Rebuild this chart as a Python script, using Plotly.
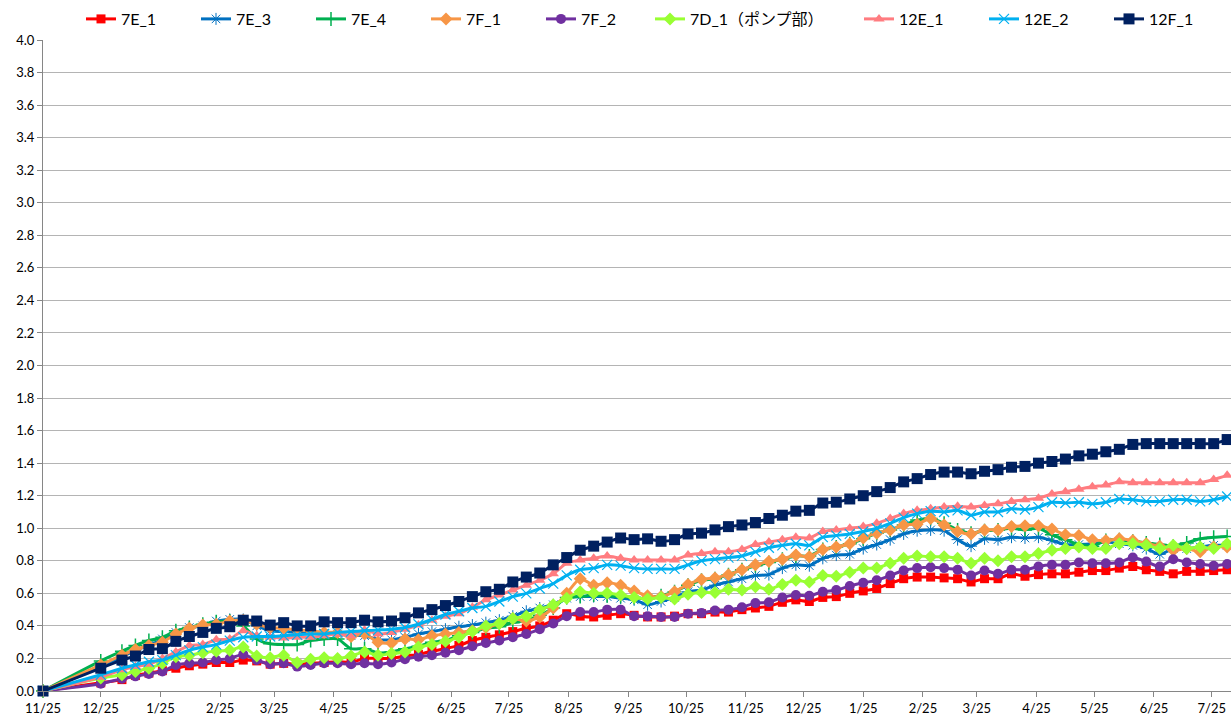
import pandas as pd
import plotly.graph_objects as go

# measurement dates: 11/25, 12/25, then weekly
dates = ["2012-11-25", "2012-12-25"] + [
    d.strftime("%Y-%m-%d") for d in pd.date_range("2013-01-05", periods=83, freq="7D")
]

tick_dates = [d.strftime("%Y-%m-%d") for d in pd.date_range("2012-11-25", periods=21, freq=pd.DateOffset(months=1))]
tick_labels = ["11/25", "12/25", "1/25", "2/25", "3/25", "4/25", "5/25", "6/25", "7/25", "8/25",
               "9/25", "10/25", "11/25", "12/25", "1/25", "2/25", "3/25", "4/25", "5/25", "6/25", "7/25"]

s_7E_1 = [0, 0.05, 0.07, 0.095, 0.11, 0.125, 0.14, 0.155, 0.165, 0.175, 0.175, 0.19,
          0.185, 0.165, 0.17, 0.165, 0.17, 0.175, 0.18, 0.175, 0.20, 0.20, 0.20,
          0.215, 0.225, 0.245, 0.26, 0.28, 0.31, 0.33, 0.345, 0.365, 0.385, 0.40, 0.435,
          0.475, 0.46, 0.455, 0.465, 0.475, 0.465, 0.455, 0.455, 0.46, 0.475, 0.475,
          0.485, 0.485, 0.50, 0.51, 0.52, 0.545, 0.56, 0.55, 0.575, 0.58, 0.60, 0.615,
          0.63, 0.66, 0.69, 0.70, 0.70, 0.695, 0.69, 0.67, 0.69, 0.69, 0.72, 0.705,
          0.715, 0.72, 0.72, 0.73, 0.74, 0.74, 0.755, 0.765, 0.745, 0.735, 0.72, 0.735,
          0.735, 0.74, 0.745]

s_7E_3 = [0, 0.15, 0.21, 0.25, 0.28, 0.32, 0.36, 0.39, 0.40, 0.43, 0.44, 0.44,
          0.40, 0.37, 0.365, 0.36, 0.355, 0.355, 0.35, 0.34, 0.34, 0.315, 0.315,
          0.33, 0.35, 0.365, 0.38, 0.395, 0.405, 0.42, 0.435, 0.46, 0.49, 0.51, 0.53,
          0.57, 0.58, 0.58, 0.58, 0.57, 0.56, 0.53, 0.55, 0.575, 0.61, 0.62,
          0.65, 0.67, 0.69, 0.71, 0.715, 0.755, 0.775, 0.77, 0.815, 0.835, 0.84, 0.875,
          0.90, 0.93, 0.965, 0.985, 0.99, 0.985, 0.93, 0.89, 0.935, 0.93, 0.945, 0.94,
          0.945, 0.925, 0.90, 0.90, 0.905, 0.915, 0.905, 0.895, 0.875, 0.84, 0.875, 0.875,
          0.885, 0.895, 0.895]

s_7E_4 = [0, 0.185, 0.245, 0.28, 0.31, 0.33, 0.37, 0.39, 0.41, 0.425, 0.43, 0.40,
          0.32, 0.29, 0.285, 0.285, 0.31, 0.32, 0.32, 0.26, 0.26, 0.235, 0.24,
          0.26, 0.275, 0.30, 0.31, 0.34, 0.36, 0.385, 0.395, 0.42, 0.435, 0.465, 0.51,
          0.575, 0.58, 0.59, 0.585, 0.58, 0.575, 0.565, 0.585, 0.61, 0.65, 0.68,
          0.69, 0.715, 0.745, 0.77, 0.79, 0.81, 0.83, 0.83, 0.87, 0.885, 0.905, 0.935,
          0.97, 0.99, 1.02, 1.05, 1.06, 1.03, 0.99, 0.97, 0.985, 0.99, 1.00, 0.99,
          1.00, 0.96, 0.93, 0.90, 0.89, 0.925, 0.93, 0.92, 0.91, 0.90, 0.89, 0.91,
          0.935, 0.945, 0.95]

s_7F_1 = [0, 0.16, 0.22, 0.255, 0.28, 0.30, 0.35, 0.385, 0.405, 0.41, 0.43, 0.435,
          0.41, 0.39, 0.385, 0.375, 0.37, 0.36, 0.36, 0.335, 0.35, 0.30, 0.295,
          0.32, 0.315, 0.34, 0.35, 0.36, 0.37, 0.39, 0.415, 0.445, 0.43, 0.455, 0.51,
          0.60, 0.69, 0.65, 0.665, 0.65, 0.615, 0.585, 0.58, 0.61, 0.655, 0.685,
          0.695, 0.715, 0.745, 0.775, 0.795, 0.81, 0.835, 0.825, 0.87, 0.885, 0.905, 0.94,
          0.97, 0.99, 1.02, 1.025, 1.06, 1.02, 0.98, 0.965, 0.99, 0.99, 1.01, 1.015,
          1.015, 0.995, 0.96, 0.955, 0.93, 0.925, 0.935, 0.925, 0.905, 0.89, 0.865, 0.875,
          0.855, 0.885, 0.885]

s_7F_2 = [0, 0.045, 0.075, 0.09, 0.105, 0.12, 0.16, 0.17, 0.175, 0.19, 0.20, 0.225,
          0.19, 0.165, 0.17, 0.15, 0.16, 0.17, 0.17, 0.165, 0.17, 0.165, 0.175,
          0.195, 0.21, 0.22, 0.235, 0.25, 0.275, 0.295, 0.31, 0.33, 0.35, 0.38, 0.415,
          0.46, 0.485, 0.485, 0.50, 0.50, 0.46, 0.46, 0.455, 0.455, 0.475, 0.48,
          0.495, 0.50, 0.515, 0.54, 0.545, 0.575, 0.59, 0.585, 0.61, 0.62, 0.645, 0.665,
          0.68, 0.71, 0.74, 0.755, 0.76, 0.755, 0.745, 0.71, 0.74, 0.72, 0.745, 0.745,
          0.765, 0.775, 0.775, 0.79, 0.785, 0.785, 0.79, 0.82, 0.795, 0.765, 0.81, 0.79,
          0.78, 0.77, 0.78]

s_7D_1 = [0, 0.08, 0.10, 0.12, 0.14, 0.17, 0.21, 0.22, 0.235, 0.245, 0.25, 0.27,
          0.215, 0.205, 0.22, 0.175, 0.195, 0.205, 0.20, 0.215, 0.24, 0.22, 0.23,
          0.24, 0.27, 0.285, 0.305, 0.33, 0.365, 0.40, 0.415, 0.445, 0.46, 0.50, 0.53,
          0.57, 0.61, 0.60, 0.60, 0.59, 0.575, 0.565, 0.575, 0.565, 0.595, 0.605,
          0.605, 0.625, 0.62, 0.64, 0.625, 0.655, 0.68, 0.67, 0.71, 0.705, 0.73, 0.755,
          0.755, 0.785, 0.815, 0.83, 0.825, 0.825, 0.815, 0.785, 0.815, 0.80, 0.825, 0.825,
          0.845, 0.865, 0.875, 0.885, 0.875, 0.875, 0.905, 0.905, 0.895, 0.875, 0.895, 0.875,
          0.885, 0.875, 0.905]

s_12E_1 = [0, 0.085, 0.13, 0.15, 0.165, 0.20, 0.24, 0.28, 0.285, 0.315, 0.32, 0.37,
           0.34, 0.33, 0.325, 0.33, 0.33, 0.34, 0.35, 0.34, 0.375, 0.35, 0.36,
           0.38, 0.405, 0.435, 0.46, 0.475, 0.515, 0.56, 0.59, 0.62, 0.65, 0.68, 0.72,
           0.785, 0.805, 0.815, 0.83, 0.815, 0.805, 0.805, 0.805, 0.805, 0.835, 0.845,
           0.855, 0.855, 0.87, 0.90, 0.915, 0.93, 0.945, 0.94, 0.98, 0.99, 1.00, 1.01,
           1.03, 1.06, 1.09, 1.11, 1.12, 1.13, 1.135, 1.13, 1.14, 1.15, 1.165, 1.175,
           1.185, 1.21, 1.225, 1.24, 1.255, 1.265, 1.285, 1.28, 1.28, 1.28, 1.28, 1.28,
           1.28, 1.30, 1.325]

s_12E_2 = [0, 0.10, 0.14, 0.16, 0.18, 0.19, 0.22, 0.25, 0.27, 0.285, 0.31, 0.33,
           0.335, 0.335, 0.34, 0.345, 0.35, 0.35, 0.36, 0.365, 0.37, 0.375, 0.38,
           0.39, 0.41, 0.44, 0.47, 0.49, 0.51, 0.52, 0.55, 0.58, 0.60, 0.63, 0.66,
           0.71, 0.745, 0.755, 0.775, 0.77, 0.755, 0.75, 0.75, 0.75, 0.775, 0.80,
           0.81, 0.82, 0.83, 0.855, 0.88, 0.895, 0.905, 0.895, 0.945, 0.955, 0.965, 0.98,
           1.00, 1.03, 1.065, 1.09, 1.105, 1.10, 1.11, 1.08, 1.10, 1.10, 1.12, 1.115,
           1.13, 1.16, 1.155, 1.16, 1.15, 1.16, 1.18, 1.175, 1.165, 1.165, 1.175, 1.175,
           1.165, 1.175, 1.195]

s_12F_1 = [0, 0.14, 0.19, 0.215, 0.255, 0.26, 0.305, 0.335, 0.36, 0.385, 0.395, 0.435,
           0.43, 0.405, 0.42, 0.40, 0.40, 0.425, 0.42, 0.42, 0.435, 0.425, 0.43,
           0.45, 0.48, 0.50, 0.525, 0.55, 0.58, 0.61, 0.625, 0.67, 0.70, 0.725, 0.775,
           0.82, 0.865, 0.89, 0.915, 0.94, 0.93, 0.935, 0.92, 0.93, 0.965, 0.97,
           0.99, 1.01, 1.02, 1.035, 1.06, 1.08, 1.105, 1.11, 1.155, 1.16, 1.18, 1.20,
           1.225, 1.25, 1.285, 1.305, 1.33, 1.345, 1.345, 1.335, 1.35, 1.36, 1.375, 1.38,
           1.40, 1.41, 1.425, 1.445, 1.455, 1.47, 1.485, 1.515, 1.52, 1.52, 1.52, 1.52,
           1.52, 1.52, 1.545]

series_names = ["7E_1", "7E_3", "7E_4", "7F_1", "7F_2", "7D_1（ポンプ部）", "12E_1", "12E_2", "12F_1"]
series_values = [s_7E_1, s_7E_3, s_7E_4, s_7F_1, s_7F_2, s_7D_1, s_12E_1, s_12E_2, s_12F_1]
legend_groups = ["legend", "legend", "legend", "legend", "legend", "legend3",
                 "legend2", "legend2", "legend2"]

styles = [
    dict(color="#FF0000", symbol="square", size=9, mline=0),
    dict(color="#0070C0", symbol="asterisk-open", size=10, mline=1),
    dict(color="#00B050", symbol="cross-thin-open", size=10, mline=1.5),
    dict(color="#F79646", symbol="diamond", size=10, mline=0),
    dict(color="#7030A0", symbol="circle", size=10, mline=0),
    dict(color="#99FF33", symbol="diamond", size=10, mline=0),
    dict(color="#FF7C80", symbol="triangle-up", size=10, mline=0),
    dict(color="#00B0F0", symbol="x-thin-open", size=10, mline=1.2),
    dict(color="#002060", symbol="square", size=11, mline=0),
]

font_family = "Lato, 'Noto Sans CJK JP', sans-serif"

fig = go.Figure()
for name, vals, st, lg in zip(series_names, series_values, styles, legend_groups):
    assert len(vals) == len(dates), (name, len(vals))
    fig.add_trace(go.Scatter(
        x=dates, y=vals, name=name, mode="lines+markers",
        line=dict(color=st["color"], width=3, shape="spline", smoothing=0.7),
        marker=dict(symbol=st["symbol"], size=st["size"], color=st["color"],
                    line=dict(color=st["color"], width=st["mline"])),
        cliponaxis=False,
        legend=lg,
    ))

legend_common = dict(orientation="h", xref="container", yref="container",
                     y=1 - 19 / 720, xanchor="left", yanchor="middle",
                     font=dict(size=16, family=font_family), bgcolor="rgba(0,0,0,0)",
                     traceorder="normal")

fig.update_layout(
    width=1231, height=720,
    margin=dict(l=43, r=0, t=40, b=29),
    paper_bgcolor="white", plot_bgcolor="white",
    font=dict(family=font_family, size=13, color="#000000"),
    showlegend=True,
    legend=dict(x=81 / 1231, entrywidth=70, entrywidthmode="pixels", **legend_common),
    legend3=dict(x=650 / 1231, **legend_common),
    legend2=dict(x=859 / 1231, entrywidth=80, entrywidthmode="pixels", **legend_common),
    xaxis=dict(type="date", range=["2012-11-25", "2014-08-04"],
               tickmode="array", tickvals=tick_dates, ticktext=tick_labels,
               showgrid=False, showline=True, linecolor="#868686", linewidth=1,
               ticks="outside", ticklen=5, tickcolor="#868686",
               tickfont=dict(size=13), zeroline=False, automargin=False),
    yaxis=dict(range=[0, 4.0], dtick=0.2, tickformat=".1f",
               showgrid=True, gridcolor="#B4B4B4", gridwidth=1,
               showline=True, linecolor="#868686", linewidth=1,
               ticks="outside", ticklen=5, tickcolor="#868686",
               tickfont=dict(size=13), zeroline=False, automargin=False),
)

fig.write_html(
    "out.html",
    config={"displayModeBar": False},
    post_script="document.body.style.margin='0';document.body.style.overflow='hidden';",
)
